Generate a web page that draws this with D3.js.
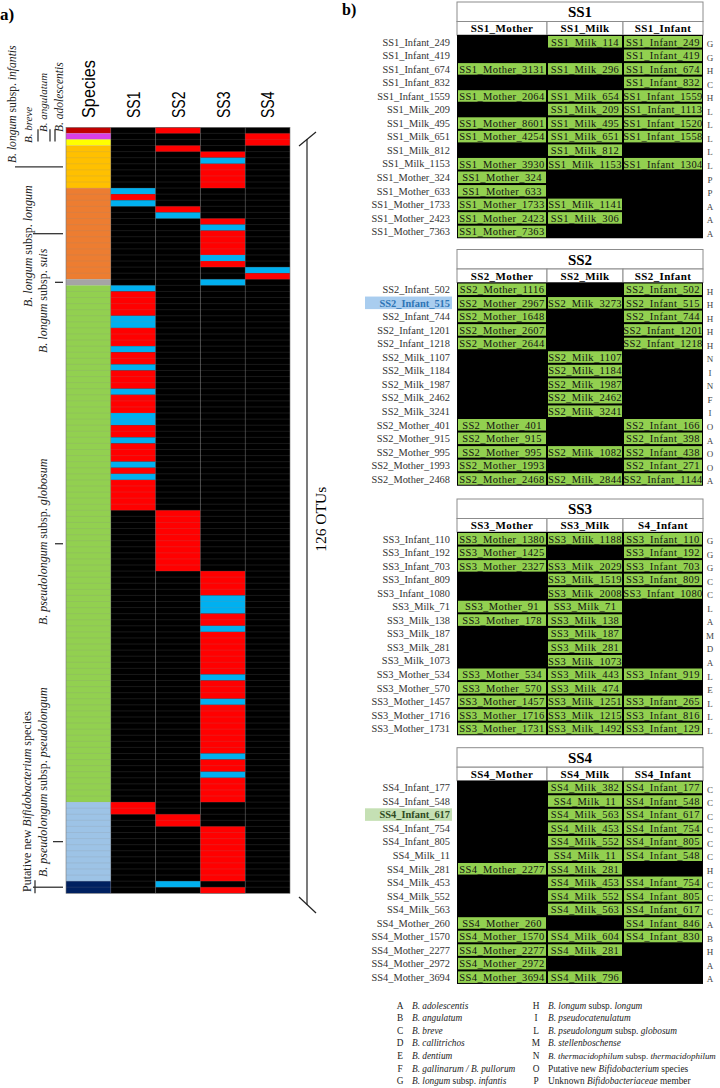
<!DOCTYPE html>
<html>
<head>
<meta charset="utf-8">
<title>Bifidobacterium OTUs</title>
<script src="https://cdn.jsdelivr.net/npm/d3@7"></script>
<style>
  body { margin: 0; background: #fff; }
  svg { display: block; font-family: 'Liberation Serif', 'Times New Roman', serif; }
</style>
</head>
<body>
<svg id="chart" width="720" height="1088"></svg>
<script>
(function () {
  'use strict';

  // ---------- panel a data ----------
  var heatColumns = ['Species', 'SS1', 'SS2', 'SS3', 'SS4'];
  var speciesNames = ['adolescentis', 'angulatum', 'breve', 'infantis', 'longum',
    'suis', 'globosum', 'pseudolongum', 'putative'];
  var speciesCounts = [1, 1, 1, 7, 15, 1, 85, 13, 2];
  var speciesLabels = [
    '*B. adolescentis*',
    '*B. angulatum*',
    '*B. breve*',
    '*B. longum* subsp. *infantis*',
    '*B. longum* subsp. *longum*',
    '*B. longum* subsp. *suis*',
    '*B. pseudolongum* subsp. *globosum*',
    '*B. pseudolongum* subsp. *pseudolongum*',
    'Putative new *Bifidobacterium* species'
  ];
  // coloured cells per sampling site: [firstRow, lastRow, 'r' red | 'b' blue], rest is black
  var ss1Runs = [[10, 10, 'b'], [11, 11, 'r'], [12, 12, 'b'], [26, 26, 'b'], [27, 30, 'r'],
    [31, 32, 'b'], [33, 35, 'r'], [36, 36, 'b'], [37, 38, 'r'], [39, 39, 'b'], [40, 42, 'r'],
    [43, 43, 'b'], [44, 46, 'r'], [47, 48, 'b'], [49, 50, 'r'], [51, 51, 'b'], [52, 54, 'r'],
    [55, 55, 'b'], [56, 56, 'r'], [57, 57, 'b'], [58, 62, 'r'], [111, 112, 'r']];
  var ss2Runs = [[0, 0, 'r'], [3, 3, 'r'], [13, 13, 'r'], [14, 14, 'b'], [63, 72, 'r'],
    [113, 114, 'r'], [124, 124, 'b']];
  var ss3Runs = [[4, 4, 'r'], [5, 5, 'b'], [6, 9, 'r'], [15, 15, 'r'], [16, 16, 'b'],
    [17, 20, 'r'], [21, 21, 'b'], [22, 22, 'r'], [25, 25, 'b'], [73, 76, 'r'], [77, 79, 'b'],
    [80, 81, 'r'], [82, 82, 'b'], [83, 89, 'r'], [90, 90, 'b'], [91, 93, 'r'], [94, 94, 'b'],
    [95, 102, 'r'], [103, 103, 'b'], [104, 105, 'r'], [106, 106, 'b'], [107, 110, 'r'],
    [115, 123, 'r'], [125, 125, 'r']];
  var ss4Runs = [[1, 2, 'r'], [23, 23, 'b'], [24, 24, 'r']];
  var otuTotal = '126 OTUs';

  // ---------- panel b data ----------
  var tableNames = ['SS1', 'SS2', 'SS3', 'SS4'];
  var ss1Headers = ['SS1_Mother', 'SS1_Milk', 'SS1_Infant'];
  var ss2Headers = ['SS2_Mother', 'SS2_Milk', 'SS2_Infant'];
  var ss3Headers = ['SS3_Mother', 'SS3_Milk', 'S4_Infant'];
  var ss4Headers = ['SS4_Mother', 'SS4_Milk', 'SS4_Infant'];
  // [row label, mother, milk, infant, species code]; null = no match
  var ss1Rows = [
    ['SS1_Infant_249', null, 'SS1_Milk_114', 'SS1_Infant_249', 'G'],
    ['SS1_Infant_419', null, null, 'SS1_Infant_419', 'G'],
    ['SS1_Infant_674', 'SS1_Mother_3131', 'SS1_Milk_296', 'SS1_Infant_674', 'H'],
    ['SS1_Infant_832', null, null, 'SS1_Infant_832', 'C'],
    ['SS1_Infant_1559', 'SS1_Mother_2064', 'SS1_Milk_654', 'SS1_Infant_1559', 'H'],
    ['SS1_Milk_209', null, 'SS1_Milk_209', 'SS1_Infant_1113', 'L'],
    ['SS1_Milk_495', 'SS1_Mother_8601', 'SS1_Milk_495', 'SS1_Infant_1520', 'L'],
    ['SS1_Milk_651', 'SS1_Mother_4254', 'SS1_Milk_651', 'SS1_Infant_1558', 'L'],
    ['SS1_Milk_812', null, 'SS1_Milk_812', null, 'L'],
    ['SS1_Milk_1153', 'SS1_Mother_3930', 'SS1_Milk_1153', 'SS1_Infant_1304', 'L'],
    ['SS1_Mother_324', 'SS1_Mother_324', null, null, 'P'],
    ['SS1_Mother_633', 'SS1_Mother_633', null, null, 'P'],
    ['SS1_Mother_1733', 'SS1_Mother_1733', 'SS1_Milk_1141', null, 'A'],
    ['SS1_Mother_2423', 'SS1_Mother_2423', 'SS1_Milk_306', null, 'A'],
    ['SS1_Mother_7363', 'SS1_Mother_7363', null, null, 'A']
  ];
  var ss2Rows = [
    ['SS2_Infant_502', 'SS2_Mother_1116', null, 'SS2_Infant_502', 'H'],
    ['SS2_Infant_515', 'SS2_Mother_2967', 'SS2_Milk_3273', 'SS2_Infant_515', 'H'],
    ['SS2_Infant_744', 'SS2_Mother_1648', null, 'SS2_Infant_744', 'H'],
    ['SS2_Infant_1201', 'SS2_Mother_2607', null, 'SS2_Infant_1201', 'H'],
    ['SS2_Infant_1218', 'SS2_Mother_2644', null, 'SS2_Infant_1218', 'H'],
    ['SS2_Milk_1107', null, 'SS2_Milk_1107', null, 'N'],
    ['SS2_Milk_1184', null, 'SS2_Milk_1184', null, 'I'],
    ['SS2_Milk_1987', null, 'SS2_Milk_1987', null, 'N'],
    ['SS2_Milk_2462', null, 'SS2_Milk_2462', null, 'F'],
    ['SS2_Milk_3241', null, 'SS2_Milk_3241', null, 'I'],
    ['SS2_Mother_401', 'SS2_Mother_401', null, 'SS2_Infant_166', 'O'],
    ['SS2_Mother_915', 'SS2_Mother_915', null, 'SS2_Infant_398', 'A'],
    ['SS2_Mother_995', 'SS2_Mother_995', 'SS2_Milk_1082', 'SS2_Infant_438', 'O'],
    ['SS2_Mother_1993', 'SS2_Mother_1993', null, 'SS2_Infant_271', 'O'],
    ['SS2_Mother_2468', 'SS2_Mother_2468', 'SS2_Milk_2844', 'SS2_Infant_1144', 'A']
  ];
  var ss3Rows = [
    ['SS3_Infant_110', 'SS3_Mother_1380', 'SS3_Milk_1188', 'SS3_Infant_110', 'G'],
    ['SS3_Infant_192', 'SS3_Mother_1425', null, 'SS3_Infant_192', 'G'],
    ['SS3_Infant_703', 'SS3_Mother_2327', 'SS3_Milk_2029', 'SS3_Infant_703', 'G'],
    ['SS3_Infant_809', null, 'SS3_Milk_1519', 'SS3_Infant_809', 'C'],
    ['SS3_Infant_1080', null, 'SS3_Milk_2008', 'SS3_Infant_1080', 'C'],
    ['SS3_Milk_71', 'SS3_Mother_91', 'SS3_Milk_71', null, 'L'],
    ['SS3_Milk_138', 'SS3_Mother_178', 'SS3_Milk_138', null, 'A'],
    ['SS3_Milk_187', null, 'SS3_Milk_187', null, 'M'],
    ['SS3_Milk_281', null, 'SS3_Milk_281', null, 'D'],
    ['SS3_Milk_1073', null, 'SS3_Milk_1073', null, 'A'],
    ['SS3_Mother_534', 'SS3_Mother_534', 'SS3_Milk_443', 'SS3_Infant_919', 'L'],
    ['SS3_Mother_570', 'SS3_Mother_570', 'SS3_Milk_474', null, 'E'],
    ['SS3_Mother_1457', 'SS3_Mother_1457', 'SS3_Milk_1251', 'SS3_Infant_265', 'L'],
    ['SS3_Mother_1716', 'SS3_Mother_1716', 'SS3_Milk_1215', 'SS3_Infant_816', 'L'],
    ['SS3_Mother_1731', 'SS3_Mother_1731', 'SS3_Milk_1492', 'SS3_Infant_129', 'L']
  ];
  var ss4Rows = [
    ['SS4_Infant_177', null, 'SS4_Milk_382', 'SS4_Infant_177', 'C'],
    ['SS4_Infant_548', null, 'SS4_Milk_11', 'SS4_Infant_548', 'C'],
    ['SS4_Infant_617', null, 'SS4_Milk_563', 'SS4_Infant_617', 'C'],
    ['SS4_Infant_754', null, 'SS4_Milk_453', 'SS4_Infant_754', 'C'],
    ['SS4_Infant_805', null, 'SS4_Milk_552', 'SS4_Infant_805', 'C'],
    ['SS4_Milk_11', null, 'SS4_Milk_11', 'SS4_Infant_548', 'C'],
    ['SS4_Milk_281', 'SS4_Mother_2277', 'SS4_Milk_281', null, 'H'],
    ['SS4_Milk_453', null, 'SS4_Milk_453', 'SS4_Infant_754', 'C'],
    ['SS4_Milk_552', null, 'SS4_Milk_552', 'SS4_Infant_805', 'C'],
    ['SS4_Milk_563', null, 'SS4_Milk_563', 'SS4_Infant_617', 'C'],
    ['SS4_Mother_260', 'SS4_Mother_260', null, 'SS4_Infant_846', 'A'],
    ['SS4_Mother_1570', 'SS4_Mother_1570', 'SS4_Milk_604', 'SS4_Infant_830', 'B'],
    ['SS4_Mother_2277', 'SS4_Mother_2277', 'SS4_Milk_281', null, 'H'],
    ['SS4_Mother_2972', 'SS4_Mother_2972', null, null, 'A'],
    ['SS4_Mother_3694', 'SS4_Mother_3694', 'SS4_Milk_796', null, 'A']
  ];
  var highlightedRows = ['SS2_Infant_515', 'SS4_Infant_617'];
  var legendCodes = ['A', 'B', 'C', 'D', 'E', 'F', 'G', 'H', 'I', 'L', 'M', 'N', 'O', 'P'];
  var legendNames = [
    '*B. adolescentis*',
    '*B. angulatum*',
    '*B. breve*',
    '*B. callitrichos*',
    '*B. dentium*',
    '*B. gallinarum / B. pullorum*',
    '*B. longum* subsp. *infantis*',
    '*B. longum* subsp. *longum*',
    '*B. pseudocatenulatum*',
    '*B. pseudolongum* subsp. *globosum*',
    '*B. stellenboschense*',
    '*B. thermacidophilum* subsp. *thermacidophilum*',
    'Putative new *Bifidobacterium* species',
    'Unknown *Bifidobacteriaceae* member'
  ];

  // ---------- styles ----------
  var speciesColors = {
    adolescentis: '#c00000', angulatum: '#d93fe6', breve: '#ffff00', infantis: '#ffc000',
    longum: '#ed7d31', suis: '#a5a5a5', globosum: '#92d050', pseudolongum: '#9dc3e6',
    putative: '#002060'
  };
  var stateColors = { r: '#ff0000', b: '#00b0f0' };
  var cellGreen = '#92d050';
  var tableGray = '#8c8c8c';

  var svg = d3.select('#chart');

  function richText(sel, markup) {
    var re = /\*([^*]+)\*|([^*]+)/g;
    var m;
    while ((m = re.exec(markup)) !== null) {
      sel.append('tspan')
        .attr('font-style', m[1] ? 'italic' : null)
        .text(m[1] || m[2]);
    }
  }

  // =================== panel a ===================
  var nRows = d3.sum(speciesCounts);
  var y = d3.scaleBand().domain(d3.range(nRows)).range([127.3, 893.3]);
  var x = d3.scaleBand().domain(heatColumns).range([66, 290]);

  var groups = [];
  var first = 0;
  speciesNames.forEach(function (name, i) {
    groups.push({ name: name, first: first, count: speciesCounts[i], label: speciesLabels[i] });
    first += speciesCounts[i];
  });
  groups.forEach(function (g) {
    g.center = y(g.first) + g.count * y.bandwidth() / 2;
  });

  svg.append('text')
    .attr('x', 0).attr('y', 20)
    .attr('font-size', 17).attr('font-weight', 'bold')
    .text('a)');

  var heat = svg.append('g').attr('class', 'heat');

  heat.selectAll('.species')
    .data(groups)
    .enter()
    .append('rect')
    .attr('class', 'species')
    .attr('x', x('Species'))
    .attr('width', x.bandwidth())
    .attr('y', function (d) { return y(d.first); })
    .attr('height', function (d) { return d.count * y.bandwidth(); })
    .attr('fill', function (d) { return speciesColors[d.name]; });

  var ssRuns = { SS1: ss1Runs, SS2: ss2Runs, SS3: ss3Runs, SS4: ss4Runs };
  heatColumns.slice(1).forEach(function (col) {
    heat.append('rect')
      .attr('x', x(col)).attr('width', x.bandwidth())
      .attr('y', y(0)).attr('height', nRows * y.bandwidth())
      .attr('fill', '#000');
    heat.selectAll('.run-' + col)
      .data(ssRuns[col])
      .enter()
      .append('rect')
      .attr('class', 'run-' + col)
      .attr('x', x(col))
      .attr('width', x.bandwidth())
      .attr('y', function (d) { return y(d[0]); })
      .attr('height', function (d) { return (d[1] - d[0] + 1) * y.bandwidth(); })
      .attr('fill', function (d) { return stateColors[d[2]]; });
  });

  // faint cell grid
  heat.selectAll('.hline')
    .data(d3.range(1, nRows))
    .enter()
    .append('line')
    .attr('x1', x.range()[0]).attr('x2', x.range()[1])
    .attr('y1', function (d) { return y(d); })
    .attr('y2', function (d) { return y(d); })
    .attr('stroke', '#8a8a8a').attr('stroke-opacity', 0.3).attr('stroke-width', 0.6);
  heat.selectAll('.vline')
    .data(heatColumns.slice(1))
    .enter()
    .append('line')
    .attr('x1', function (d) { return x(d); })
    .attr('x2', function (d) { return x(d); })
    .attr('y1', y(0)).attr('y2', y(0) + nRows * y.bandwidth())
    .attr('stroke', '#8a8a8a').attr('stroke-opacity', 0.35).attr('stroke-width', 0.6);
  heat.append('rect')
    .attr('x', x.range()[0]).attr('y', y(0))
    .attr('width', x.range()[1] - x.range()[0]).attr('height', nRows * y.bandwidth())
    .attr('fill', 'none').attr('stroke', '#777').attr('stroke-width', 0.6);

  // column headers
  svg.selectAll('.colhead')
    .data(heatColumns)
    .enter()
    .append('text')
    .attr('class', 'colhead')
    .attr('transform', function (d) {
      return 'translate(' + (x(d) + x.bandwidth() / 2) + ',118) rotate(-90)';
    })
    .attr('dy', '0.36em')
    .attr('font-family', "'Liberation Sans Narrow', 'Arial Narrow', 'Liberation Sans', sans-serif")
    .attr('font-size', 19)
    .attr('textLength', function (d) { return d === 'Species' ? 58 : 26.5; })
    .attr('lengthAdjust', 'spacingAndGlyphs')
    .text(function (d) { return d; });

  // species labels on the left
  var labelPos = {
    adolescentis: { x: 59, y: 132, size: 11.5 },
    angulatum: { x: 43, y: 132, size: 11 },
    breve: { x: 28, y: 143, size: 11 },
    infantis: { x: 12, y: 163, size: 11.6 },
    longum: { x: 28, y: 307, size: 12 },
    suis: { x: 43, y: 353, size: 12 },
    globosum: { x: 43, y: 625, size: 12 },
    pseudolongum: { x: 43, y: 877, size: 12 },
    putative: { x: 27, y: 892, size: 12 }
  };
  groups.forEach(function (g) {
    var p = labelPos[g.name];
    var t = svg.append('text')
      .attr('transform', 'translate(' + p.x + ',' + p.y + ') rotate(-90)')
      .attr('dy', '0.33em')
      .attr('font-size', p.size)
      .attr('fill', '#222')
      .attr('xml:space', 'preserve');
    richText(t, g.label);
  });

  // tick marks pointing to each group
  var tickStart = { infantis: 15, longum: 33, suis: 55, globosum: 55, pseudolongum: 53, putative: 33 };
  var ticks = svg.append('g').attr('stroke', '#333').attr('stroke-width', 1.3);
  groups.filter(function (g) { return tickStart[g.name] !== undefined; })
    .forEach(function (g) {
      ticks.append('line')
        .attr('x1', tickStart[g.name]).attr('x2', 63)
        .attr('y1', g.center).attr('y2', g.center);
    });
  var barX = { breve: 38, angulatum: 50, adolescentis: 55 };
  Object.keys(barX).forEach(function (k) {
    ticks.append('line')
      .attr('x1', barX[k]).attr('x2', barX[k])
      .attr('y1', y(0) + 2).attr('y2', y(2) + 2);
  });
  var putative = groups[groups.length - 1];
  ticks.append('line')
    .attr('x1', 35).attr('x2', 35)
    .attr('y1', y(putative.first) - 1).attr('y2', y(putative.first) + putative.count * y.bandwidth());

  // bracket on the right
  var bracket = svg.append('g').attr('stroke', '#222').attr('stroke-width', 1.2).attr('fill', 'none');
  bracket.append('line').attr('x1', 307).attr('x2', 307).attr('y1', 139).attr('y2', 905);
  bracket.append('line').attr('x1', 299).attr('x2', 316).attr('y1', 146).attr('y2', 132);
  bracket.append('line').attr('x1', 299).attr('x2', 316).attr('y1', 897).attr('y2', 913);
  svg.append('text')
    .attr('transform', 'translate(321,' + ((y(0) + y(nRows - 1)) / 2 + 12) + ') rotate(-90)')
    .attr('dy', '0.35em')
    .attr('text-anchor', 'middle')
    .attr('font-size', 15.5)
    .text(otuTotal);

  // =================== panel b ===================
  svg.append('text')
    .attr('x', 342).attr('y', 15)
    .attr('font-size', 16).attr('font-weight', 'bold')
    .text('b)');

  var tables = [
    { headers: ss1Headers, rows: ss1Rows },
    { headers: ss2Headers, rows: ss2Rows },
    { headers: ss3Headers, rows: ss3Rows },
    { headers: ss4Headers, rows: ss4Rows }
  ];
  var tableTops = [2, 249.5, 499, 747.7];
  var titleH = 19.5;
  var headerH = 13.5;
  var rowH = 13.55;
  var colX = d3.scaleOrdinal().domain([0, 1, 2]).range([457, 547, 623]);
  var colW = d3.scaleOrdinal().domain([0, 1, 2]).range([90, 76, 80]);
  var tableLeft = 457;
  var tableWidth = 246;

  tables.forEach(function (tb, ti) {
    var top = tableTops[ti];
    var g = svg.append('g').attr('class', 'table');
    var rowsTop = top + titleH + headerH;
    var ry = d3.scaleBand().domain(d3.range(tb.rows.length))
      .range([rowsTop, rowsTop + tb.rows.length * rowH]);

    g.append('rect')
      .attr('x', tableLeft).attr('y', top)
      .attr('width', tableWidth).attr('height', titleH)
      .attr('fill', '#fff').attr('stroke', tableGray);
    g.append('text')
      .attr('x', tableLeft + tableWidth / 2).attr('y', top + titleH / 2)
      .attr('dy', '0.36em').attr('text-anchor', 'middle')
      .attr('font-size', 15).attr('font-weight', 'bold')
      .text(tableNames[ti]);

    g.selectAll('.head')
      .data(tb.headers)
      .enter()
      .append('rect')
      .attr('x', function (d, i) { return colX(i); })
      .attr('width', function (d, i) { return colW(i); })
      .attr('y', top + titleH).attr('height', headerH)
      .attr('fill', '#fff').attr('stroke', tableGray);
    g.selectAll('.headtxt')
      .data(tb.headers)
      .enter()
      .append('text')
      .attr('x', function (d, i) { return colX(i) + colW(i) / 2; })
      .attr('y', top + titleH + headerH / 2)
      .attr('dy', '0.36em').attr('text-anchor', 'middle')
      .attr('font-size', 11).attr('font-weight', 'bold').attr('letter-spacing', 0.4)
      .text(function (d) { return d; });

    g.append('rect')
      .attr('x', tableLeft).attr('y', rowsTop)
      .attr('width', tableWidth).attr('height', tb.rows.length * rowH)
      .attr('fill', '#000');

    var cells = [];
    tb.rows.forEach(function (r, ri) {
      [1, 2, 3].forEach(function (c) {
        if (r[c]) { cells.push({ row: ri, col: c - 1, text: r[c] }); }
      });
    });
    g.selectAll('.cell')
      .data(cells)
      .enter()
      .append('rect')
      .attr('x', function (d) { return colX(d.col) + 1; })
      .attr('width', function (d) { return colW(d.col) - 2; })
      .attr('y', function (d) { return ry(d.row) + 1; })
      .attr('height', ry.bandwidth() - 2)
      .attr('fill', cellGreen);
    g.selectAll('.celltxt')
      .data(cells)
      .enter()
      .append('text')
      .attr('x', function (d) { return colX(d.col) + colW(d.col) / 2; })
      .attr('y', function (d) { return ry(d.row) + ry.bandwidth() / 2; })
      .attr('dy', '0.36em').attr('text-anchor', 'middle')
      .attr('font-size', 10.5).attr('letter-spacing', 0.4).attr('fill', '#111')
      .text(function (d) { return d.text; });

    // highlighted row labels
    g.selectAll('.hl')
      .data(tb.rows.filter(function (r) { return highlightedRows.indexOf(r[0]) >= 0; }))
      .enter()
      .append('rect')
      .attr('x', 365).attr('width', 87)
      .attr('y', function (r) { return ry(tb.rows.indexOf(r)) + 0.5; })
      .attr('height', ry.bandwidth() - 1)
      .attr('fill', ti === 1 ? '#a9cdef' : '#c5e0b4');

    g.selectAll('.rowlab')
      .data(tb.rows)
      .enter()
      .append('text')
      .attr('x', 450)
      .attr('y', function (r, i) { return ry(i) + ry.bandwidth() / 2; })
      .attr('dy', '0.36em').attr('text-anchor', 'end')
      .attr('font-size', 10.4)
      .attr('font-weight', function (r) { return highlightedRows.indexOf(r[0]) >= 0 ? 'bold' : null; })
      .attr('fill', function (r) {
        if (highlightedRows.indexOf(r[0]) < 0) { return '#333'; }
        return ti === 1 ? '#2e75b6' : '#2f4a1f';
      })
      .text(function (r) { return r[0]; });

    g.selectAll('.code')
      .data(tb.rows)
      .enter()
      .append('text')
      .attr('x', 710)
      .attr('y', function (r, i) { return ry(i) + ry.bandwidth() / 2 + 2; })
      .attr('dy', '0.36em').attr('text-anchor', 'middle')
      .attr('font-size', 9).attr('fill', '#444')
      .text(function (r) { return r[4]; });
  });

  // legend
  var perCol = Math.ceil(legendCodes.length / 2);
  var legendSize = 9.3;
  var ly = d3.scaleBand().domain(d3.range(perCol)).range([999, 999 + perCol * 12.6]);
  var legend = svg.append('g').attr('class', 'legend').attr('font-size', legendSize).attr('fill', '#222');
  legendCodes.forEach(function (code, i) {
    var col = Math.floor(i / perCol);
    var row = i % perCol;
    var cy = ly(row) + ly.bandwidth() / 2;
    var tx = col === 0 ? 412 : 548;
    legend.append('text')
      .attr('x', col === 0 ? 400 : 536).attr('y', cy)
      .attr('dy', '0.36em').attr('text-anchor', 'middle')
      .text(code);
    var t = legend.append('text')
      .attr('x', tx).attr('y', cy)
      .attr('dy', '0.36em')
      .attr('xml:space', 'preserve');
    richText(t, legendNames[i]);
    // shrink the longest entry so it stays inside the page
    var len = t.node().getComputedTextLength();
    if (tx + len > 716) {
      t.attr('font-size', legendSize * (716 - tx) / len);
    }
  });
}());
</script>
</body>
</html>
